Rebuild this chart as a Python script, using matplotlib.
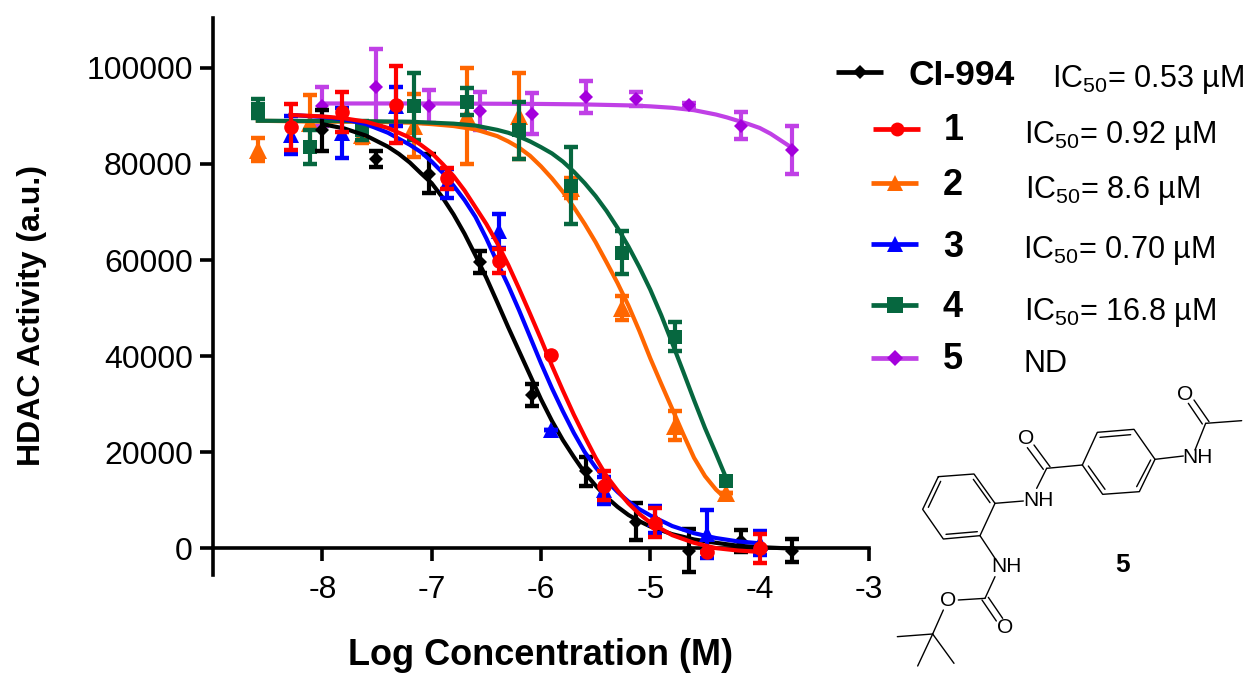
import numpy as np
import matplotlib
matplotlib.use('Agg')
import matplotlib.pyplot as plt

plt.rcParams['font.family'] = ['Liberation Sans', 'DejaVu Sans']
plt.rcParams['mathtext.default'] = 'regular'

# measured points: log conc, activity, error
x_a = [-8.0, -7.51, -7.02, -6.56, -6.08, -5.59, -5.13, -4.65, -4.17, -3.7]
x_b = [-8.29, -7.82, -7.33, -6.86, -6.38, -5.91, -5.42, -4.96, -4.48, -4.0]
x_c = [-8.59, -8.11, -7.64, -7.16, -6.68, -6.2, -5.73, -5.26, -4.77, -4.31]

ci994_y = [87000, 81000, 78000, 59500, 31800, 16000, 5500, -500, 1500, -500]
ci994_e = [4300, 1600, 4000, 2300, 2300, 3000, 3800, 4500, 2300, 2400]
cmp1_y = [87700, 90800, 92300, 77000, 59800, 40200, 13000, 5300, -800, 0]
cmp1_e = [4800, 4200, 8000, 2200, 2500, 0, 3000, 3000, 0, 3000]
cmp3_y = [86000, 86500, 92000, 76000, 66000, 24500, 12000, 6000, 3000, 1000]
cmp3_e = [4000, 5200, 4000, 3000, 3500, 0, 2800, 2800, 5000, 2500]
cmp2_y = [83000, 88500, 86000, 88000, 90000, 90000, 75000, 50000, 25500, 11500]
cmp2_e = [2400, 5800, 1600, 6500, 10000, 9000, 2000, 2500, 3000, 0]
cmp4_y = [91500, 83500, 87000, 92000, 93000, 87000, 75500, 61500, 44000, 14000]
cmp4_e = [2000, 3500, 2000, 7000, 2800, 6000, 8000, 4500, 3000, 0]
cmp5_y = [92000, 96000, 92000, 91000, 90500, 94000, 93500, 92200, 88000, 83000]
cmp5_e = [4000, 8000, 3500, 4000, 4200, 3300, 1500, 600, 2800, 5000]

# fitted curves
fit_a = [-8.0, -7.8, -7.6, -7.4, -7.3, -7.2, -7.1, -7.0, -6.9, -6.8, -6.7, -6.6, -6.5, -6.4, -6.3, -6.2, -6.1, -6.0,
         -5.9, -5.8, -5.7, -5.6, -5.5, -5.4, -5.3, -5.2, -5.1, -5.0, -4.8, -4.6, -4.4, -4.2, -4.0, -3.8, -3.7]
fit_ci994 = [88300, 87400, 85900, 83600, 82100, 80300, 78100, 76000, 73000, 69500, 65500, 61000, 56300, 51200, 46000, 41000, 36000, 31000,
             26500, 22500, 19000, 15700, 13000, 10600, 8600, 6900, 5600, 4500, 2900, 1800, 1100, 500, 200, 0, -100]
fit_b = [-8.29, -8.0, -7.8, -7.6, -7.4, -7.2, -7.1, -7.0, -6.9, -6.8, -6.7, -6.6, -6.5, -6.4, -6.3, -6.2, -6.1, -6.0,
         -5.9, -5.8, -5.7, -5.6, -5.5, -5.4, -5.3, -5.2, -5.1, -5.0, -4.8, -4.6, -4.4, -4.2, -4.0]
fit_1 = [90200, 89900, 89500, 88800, 87500, 85500, 84000, 82300, 80000, 77500, 74500, 71000, 67500, 63500, 59000, 54000, 48800, 43500,
         38000, 32800, 27800, 23200, 18800, 15000, 12000, 9300, 7100, 5300, 2700, 1100, 0, -500, -800]
fit_3 = [90200, 89800, 89300, 88300, 86500, 84000, 82500, 80500, 78200, 75500, 72500, 69000, 64500, 59500, 54700, 49500, 44000, 38500,
         33300, 28500, 24000, 20000, 16800, 14000, 11700, 9700, 8100, 6800, 4600, 3100, 2100, 1400, 1000]
fit_c = [-8.59, -8.0, -7.6, -7.2, -7.0, -6.8, -6.6, -6.4, -6.3, -6.2, -6.1, -6.0, -5.9, -5.8, -5.7, -5.6, -5.5, -5.4, -5.3, -5.2, -5.1, -5.0,
         -4.9, -4.8, -4.7, -4.6, -4.5, -4.4, -4.31]
fit_2 = [89000, 88800, 88800, 88600, 88300, 87900, 87200, 85800, 84700, 83400, 81700, 79500, 77000, 74200, 71000, 67500, 63700, 59500, 55200, 50500, 45200, 39500,
         34200, 29000, 23800, 18800, 15000, 12200, 10300]
fit_4 = [89000, 88950, 88900, 88800, 88600, 88400, 88000, 87100, 86500, 85700, 84700, 83500, 82200, 80500, 78400, 76000, 73300, 70200, 66700, 62800, 58500, 53800,
         48500, 42700, 36800, 30800, 25000, 19700, 14800]
fit_d = [-8.0, -7.0, -6.0, -5.6, -5.2, -5.0, -4.8, -4.6, -4.4, -4.3, -4.2, -4.1, -4.0, -3.9, -3.8, -3.7]
fit_5 = [92600, 92600, 92500, 92400, 92200, 92000, 91700, 91200, 90300, 89700, 89000, 88300, 87500, 86300, 84800, 83300]

series_names = ['CI-994', '1', '2', '3', '4', '5']
series_ic50 = ['0.53 µM', '0.92 µM', '8.6 µM', '0.70 µM', '16.8 µM', 'ND']

# structure of 5, in pixels of a 3x crop with origin at (880, 370)
mol_bonds = [
    [(175, 320), (282, 312), (345, 400), (300, 497), (190, 507), (128, 418), (175, 320)],
    [(182, 334), (145, 412)], [(280, 328), (330, 398)], [(198, 493), (292, 485)],
    [(345, 400), (430, 393)], [(470, 355), (500, 295)],
    [(490, 298), (442, 233)], [(510, 290), (462, 225)], [(500, 295), (607, 285)],
    [(607, 285), (652, 187), (762, 178), (825, 268), (778, 365), (668, 373), (607, 285)],
    [(660, 202), (752, 194)], [(812, 270), (770, 350)], [(625, 288), (675, 358)],
    [(825, 268), (910, 258)], [(945, 240), (977, 160)],
    [(967, 162), (925, 100)], [(987, 155), (942, 90)], [(977, 160), (1085, 152)],
    [(300, 497), (345, 565)], [(345, 620), (315, 685)], [(315, 685), (235, 690)],
    [(190, 720), (158, 792)], [(325, 682), (368, 745)], [(306, 690), (349, 753)],
    [(158, 792), (52, 800)], [(158, 792), (113, 888)], [(158, 792), (222, 880)],
]
mol_labels = [('O', 437, 207), ('NH', 475, 392), ('NH', 952, 262), ('O', 915, 75),
              ('NH', 380, 590), ('O', 205, 693), ('O', 375, 773)]

W, H = 1250, 673
fig = plt.figure(figsize=(12.5, 6.73), dpi=100)
ax = fig.add_axes([213 / W, 1 - 575 / H, (869 - 213) / W, (575 - 18) / H])


def series(x, y, e, fx, fy, color, marker, ms, ecolor=None, z=2):
    ax.plot(fx, fy, color=ecolor or color, lw=3, zorder=z, clip_on=False, solid_joinstyle='round')
    ax.errorbar(x, y, yerr=e, fmt='none', ecolor=ecolor or color,
                elinewidth=3, capsize=5, capthick=3.2, zorder=z, clip_on=False)
    ax.plot(x, y, marker, color=color, ms=ms, mew=0, zorder=z, clip_on=False)


series(x_a, cmp5_y, cmp5_e, fit_d, fit_5, '#A400DC', 'D', 7.5, ecolor='#C040E6', z=2)
series(x_c, cmp2_y, cmp2_e, fit_c, fit_2, '#FF6600', '^', 13, z=3)
series(x_c, cmp4_y, cmp4_e, fit_c, fit_4, '#06673F', 's', 10.5, z=4)
series(x_a, ci994_y, ci994_e, fit_a, fit_ci994, 'black', 'D', 7, z=5)
series(x_b, cmp3_y, cmp3_e, fit_b, fit_3, '#0000FF', '^', 11, z=6)
series(x_b, cmp1_y, cmp1_e, fit_b, fit_1, '#FF0000', 'o', 10.5, z=7)

ax.set_xlim(-9, -3)
ax.set_ylim(-5600, 110400)
ax.patch.set_alpha(0)
for s in ['top', 'right']:
    ax.spines[s].set_visible(False)
ax.spines['bottom'].set_position(('data', 0))
ax.spines['bottom'].set_linewidth(2.6)
ax.spines['left'].set_linewidth(2.6)
ax.set_xticks([-8, -7, -6, -5, -4, -3])
ax.set_xticklabels(['-8', '-7', '-6', '-5', '-4', '-3'])
ax.set_yticks([0, 20000, 40000, 60000, 80000, 100000])
ax.tick_params(axis='both', length=9.5, width=2.6, labelsize=23)
ax.tick_params(axis='y', pad=5)
ax.tick_params(axis='x', pad=10)
ax.set_xlabel('Log Concentration (M)', fontsize=26, fontweight='bold', va='center')
ax.xaxis.set_label_coords(0.5, -0.145)
ax.set_ylabel('HDAC Activity (a.u.)', fontsize=23, fontweight='bold', va='center')
ax.yaxis.set_label_coords(-0.276, 0.465)

# legend and structure drawn in pixel space
ov = fig.add_axes([0, 0, 1, 1])
ov.set_xlim(0, W)
ov.set_ylim(H, 0)
ov.axis('off')

leg_y = [72, 129, 183, 244, 305, 358]
leg_x0 = [836, 873, 871, 871, 871, 871]
leg_x1 = [883, 920, 918, 918, 918, 918]
leg_col = ['black', '#FF0000', '#FF6600', '#0000FF', '#06673F', '#C040E6']
leg_mec = ['black', '#FF0000', '#FF6600', '#0000FF', '#06673F', '#A400DC']
leg_mark = ['D', 'o', '^', '^', 's', 'D']
leg_ms = [7, 10, 12, 11, 11, 8]
name_x = [962, 954, 953, 953, 953, 953]
name_base = [85, 140, 195, 257, 317, 369]
txt_x = [1052, 1024, 1025, 1023, 1024, 1024]
txt_base = [87, 143, 198, 258, 320, 372]
for i in range(6):
    ov.plot([leg_x0[i], leg_x1[i]], [leg_y[i]] * 2, color=leg_col[i], lw=3.4, solid_capstyle='butt')
    ov.plot([(leg_x0[i] + leg_x1[i]) / 2], [leg_y[i]], leg_mark[i], color=leg_mec[i], ms=leg_ms[i], mew=0)
    ov.text(name_x[i], name_base[i], series_names[i], fontsize=26 if i else 25.5, fontweight='bold', ha='center', va='baseline')
    if series_ic50[i] == 'ND':
        label = 'ND'
    else:
        label = 'IC$_{50}$= ' + series_ic50[i]
    ov.text(txt_x[i], txt_base[i], label, fontsize=22, ha='left', va='baseline')

for b in mol_bonds:
    pts = np.array(b)
    ov.plot(880 + pts[:, 0] / 3, 370 + pts[:, 1] / 3, color='black', lw=1.0, solid_capstyle='round')
for txt, zx, zy in mol_labels:
    ov.text(880 + zx / 3, 370 + zy / 3, txt, fontsize=15, ha='center', va='center')
ov.text(880 + 727 / 3, 370 + 585 / 3, '5', fontsize=19, fontweight='bold', ha='center', va='center')

fig.savefig('out.png', dpi=100)
